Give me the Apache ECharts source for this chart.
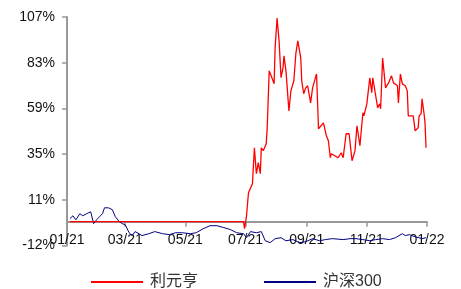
<!DOCTYPE html>
<html>
<head>
<meta charset="utf-8">
<script src="https://cdn.jsdelivr.net/npm/echarts@6/dist/echarts.min.js"></script>
<style>
html, body { margin: 0; padding: 0; background: #fff; }
#display { width: 461px; height: 289px; }
</style>
</head>
<body>
<div id="display"></div>
<script>
// 利元亨 vs 沪深300, cumulative return (%)
var tickDates = ['2021-01-01', '2021-03-01', '2021-05-01', '2021-07-01', '2021-09-01', '2021-11-01', '2022-01-01'];

var redDates = ['2021-01-04', '2021-06-29', '2021-06-30', '2021-07-02', '2021-07-04', '2021-07-08', '2021-07-10',
    '2021-07-12', '2021-07-14', '2021-07-16', '2021-07-17', '2021-07-19', '2021-07-22', '2021-07-23',
    '2021-07-25', '2021-07-27', '2021-07-30', '2021-07-31', '2021-08-02', '2021-08-04', '2021-08-06',
    '2021-08-08', '2021-08-09', '2021-08-11', '2021-08-14', '2021-08-16', '2021-08-19', '2021-08-21',
    '2021-08-23', '2021-08-26', '2021-08-27', '2021-08-29', '2021-08-31', '2021-09-02', '2021-09-05',
    '2021-09-07', '2021-09-11', '2021-09-13', '2021-09-18', '2021-09-21', '2021-09-23', '2021-09-25',
    '2021-09-26', '2021-10-03', '2021-10-06', '2021-10-08', '2021-10-11', '2021-10-14', '2021-10-17',
    '2021-10-20', '2021-10-22', '2021-10-25', '2021-10-28', '2021-10-29', '2021-11-01', '2021-11-04',
    '2021-11-06', '2021-11-07', '2021-11-12', '2021-11-14', '2021-11-15', '2021-11-17', '2021-11-20',
    '2021-11-23', '2021-11-26', '2021-11-28', '2021-12-02', '2021-12-03', '2021-12-05', '2021-12-07',
    '2021-12-10', '2021-12-12', '2021-12-13', '2021-12-18', '2021-12-20', '2021-12-23', '2021-12-24',
    '2021-12-26', '2021-12-27', '2021-12-29', '2021-12-30', '2021-12-31'];
var redValues = [0, 0, -3.7, 3.1, 15.2, 19.9, 38.8,
    25.2, 31.0, 25.2, 38.8, 37.3, 40.9, 49.3,
    79.2, 76.6, 72.4, 91.3, 107.0, 95.0, 75.6,
    80.8, 87.1, 79.2, 58.2, 68.7, 74.0, 88.1,
    95.0, 86.0, 74.0, 67.2, 70.3, 71.4, 62.4,
    70.3, 77.6, 48.8, 51.9, 45.1, 42.5, 33.6,
    35.7, 33.6, 36.2, 33.6, 46.2, 46.2, 32.0,
    37.3, 50.4, 39.9, 57.2, 55.6, 61.9, 75.6,
    67.7, 75.6, 59.8, 61.9, 59.3, 86.0, 70.3,
    72.9, 76.6, 72.9, 71.4, 62.4, 77.6, 72.4,
    71.4, 68.7, 55.6, 55.6, 47.7, 49.3, 55.6,
    56.7, 64.5, 56.7, 51.9, 38.8];

var blueDates = ['2021-01-04', '2021-01-07', '2021-01-10', '2021-01-14', '2021-01-17', '2021-01-21', '2021-01-25',
    '2021-01-28', '2021-01-31', '2021-02-03', '2021-02-06', '2021-02-08', '2021-02-12', '2021-02-16',
    '2021-02-19', '2021-02-23', '2021-02-26', '2021-03-01', '2021-03-05', '2021-03-08', '2021-03-11',
    '2021-03-15', '2021-03-18', '2021-03-25', '2021-03-31', '2021-04-08', '2021-04-15', '2021-04-21',
    '2021-04-28', '2021-05-06', '2021-05-12', '2021-05-19', '2021-05-26', '2021-06-02', '2021-06-09',
    '2021-06-16', '2021-06-22', '2021-06-29', '2021-07-02', '2021-07-06', '2021-07-12', '2021-07-17',
    '2021-07-21', '2021-07-26', '2021-07-31', '2021-08-06', '2021-08-11', '2021-08-18', '2021-08-25',
    '2021-08-31', '2021-09-07', '2021-09-14', '2021-09-20', '2021-09-27', '2021-10-08', '2021-10-15',
    '2021-10-21', '2021-10-28', '2021-11-04', '2021-11-10', '2021-11-17', '2021-11-24', '2021-11-30',
    '2021-12-07', '2021-12-10', '2021-12-14', '2021-12-20', '2021-12-27', '2021-12-31'];
var blueValues = [1.6, 3.1, 1.0, 4.2, 3.1, 4.2, 5.2,
    -1.0, 1.0, 2.6, 4.2, 7.3, 7.3, 6.3,
    2.6, 0, -1.0, -1.6, -5.8, -7.3, -5.2,
    -6.3, -7.3, -6.3, -5.2, -6.3, -6.8, -5.8,
    -5.8, -6.3, -5.8, -3.7, -2.1, -2.1, -3.1,
    -4.2, -5.8, -6.3, -8.4, -5.2, -5.8, -5.2,
    -10.0, -11.0, -8.9, -8.4, -10.0, -9.4, -11.0,
    -10.5, -8.9, -10.0, -9.4, -8.9, -9.4, -8.9,
    -8.9, -9.4, -10.0, -9.4, -8.9, -9.4, -8.4,
    -6.3, -7.3, -6.8, -7.9, -8.9, -8.4];

function toTime(d) {
    return +new Date(d + 'T00:00:00');
}

function zip(dates, values) {
    var out = [];
    for (var i = 0; i < dates.length; i++) {
        out.push([toTime(dates[i]), values[i]]);
    }
    return out;
}

var tickValues = tickDates.map(toTime);
var baseFont = "'Liberation Sans', 'Noto Sans CJK SC', sans-serif";

var option = {
    animation: false,
    grid: {left: 67, right: 34, top: 17, bottom: 43.5},
    legend: {
        left: 86,
        top: 269,
        icon: 'rect',
        itemWidth: 52,
        itemHeight: 2,
        itemGap: 66,
        textStyle: {fontFamily: baseFont, fontSize: 16, color: '#333', padding: [0, 0, 0, 2]},
        data: ['利元亨', '沪深300']
    },
    xAxis: {
        type: 'value',
        min: tickValues[0],
        max: tickValues[tickValues.length - 1],
        axisLine: {onZero: true, lineStyle: {color: '#999', width: 2}},
        axisTick: {show: true, length: 5, lineStyle: {color: '#999', width: 1.5}, customValues: tickValues},
        axisLabel: {
            customValues: tickValues,
            margin: -12,
            fontFamily: baseFont,
            fontSize: 14,
            color: '#111',
            formatter: function (v) {
                var d = new Date(v);
                var m = d.getMonth() + 1;
                var y = d.getFullYear() % 100;
                return (m < 10 ? '0' : '') + m + '/' + (y < 10 ? '0' : '') + y;
            }
        },
        splitLine: {show: false}
    },
    yAxis: {
        type: 'value',
        min: -12.5,
        max: 107.5,
        interval: 24,
        axisLine: {show: true, lineStyle: {color: '#999', width: 2}},
        axisTick: {show: true, length: 5, lineStyle: {color: '#999', width: 1.5}},
        axisLabel: {
            margin: 12,
            fontFamily: baseFont,
            fontSize: 14,
            color: '#111',
            formatter: function (v) { return Math.trunc(v) + '%'; }
        },
        splitLine: {show: false}
    },
    series: [
        {
            name: '利元亨',
            type: 'line',
            symbol: 'none',
            z: 3,
            lineStyle: {color: '#ff0000', width: 1.3},
            itemStyle: {color: '#ff0000'},
            data: zip(redDates, redValues)
        },
        {
            name: '沪深300',
            type: 'line',
            symbol: 'none',
            z: 2,
            lineStyle: {color: '#000080', width: 1},
            itemStyle: {color: '#000080'},
            data: zip(blueDates, blueValues)
        }
    ]
};

var myChart = echarts.init(document.getElementById("display"));
myChart.setOption(option);
</script>
</body>
</html>
